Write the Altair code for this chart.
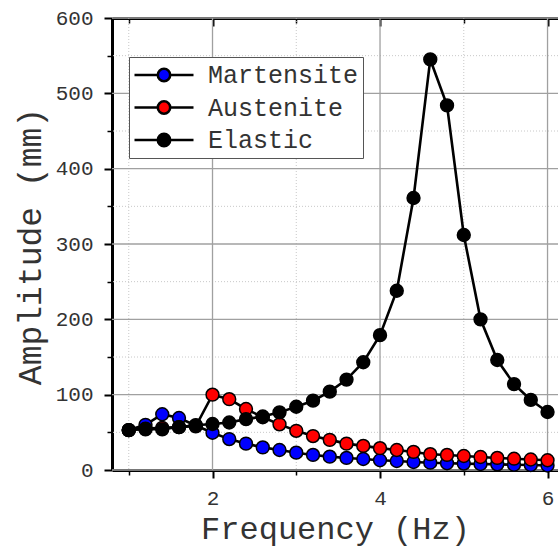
import altair as alt
import pandas as pd

# ---- data ----
freq = [1.0, 1.2, 1.4, 1.6, 1.8, 2.0, 2.2, 2.4, 2.6, 2.8, 3.0, 3.2, 3.4,
        3.6, 3.8, 4.0, 4.2, 4.4, 4.6, 4.8, 5.0, 5.2, 5.4, 5.6, 5.8, 6.0]
martensite = [53, 60, 74, 69, 59, 49.5, 41, 35, 30, 26.5, 23, 20, 17.7,
              16, 14.6, 13, 12, 10.6, 9.7, 9, 8.5, 8, 7.5, 7, 6.6, 6]
austenite = [53, 55, 56, 57, 58, 100, 94, 81, 70, 60.6, 52, 45, 40,
             35, 32, 29, 26.5, 24, 21, 20, 18.6, 17.3, 16, 15, 14, 13]
elastic = [53, 54, 54, 57, 59.5, 61, 63, 67.5, 71, 76.5, 84, 92, 104,
           120, 143, 179, 238, 361, 545, 484, 312, 200, 146, 114, 93, 77]

series_names = ["Martensite", "Austenite", "Elastic"]
series_colors = ["#0000ff", "#ff0000", "#000000"]

x_major = [2, 4, 6]
x_minor = [1, 3, 5]
y_major = [0, 100, 200, 300, 400, 500, 600]
y_grid_major = [100, 200, 300, 400, 500]
y_minor = [50, 150, 250, 350, 450, 550]

FONT = "Courier New, Liberation Mono, monospace"
W, H = 446, 452

xscale = alt.Scale(domain=[0.8, 6.125], nice=False, zero=False)
yscale = alt.Scale(domain=[0, 600], nice=False, zero=False)

def xaxis(**kw):
    base = dict(orient="bottom", grid=False, labels=False, title=None,
                domain=False, tickColor="black", tickWidth=2, tickSize=8)
    base.update(kw)
    return alt.Axis(**base)

def yaxis(**kw):
    base = dict(orient="left", grid=False, labels=False, title=None,
                domain=False, tickColor="black", tickWidth=2, tickSize=8)
    base.update(kw)
    return alt.Axis(**base)

xmin_df = pd.DataFrame({"v": x_minor})
xmaj_df = pd.DataFrame({"v": x_major})
ymin_df = pd.DataFrame({"v": y_minor})
ymaj_df = pd.DataFrame({"v": y_grid_major})
yall_df = pd.DataFrame({"v": y_major})

# minor x grid + bottom minor ticks
g1 = alt.Chart(xmin_df).mark_rule(color="#c8c8c8", strokeWidth=1, strokeDash=[1, 2]).encode(
    x=alt.X("v:Q", scale=xscale, axis=xaxis(values=x_minor, tickSize=5, tickWidth=1.5)))
# minor y grid + left minor ticks
g2 = alt.Chart(ymin_df).mark_rule(color="#c8c8c8", strokeWidth=1, strokeDash=[1, 2]).encode(
    y=alt.Y("v:Q", scale=yscale, axis=yaxis(values=y_minor, tickSize=5, tickWidth=1.5)))
# major x grid + main bottom axis
g3 = alt.Chart(xmaj_df).mark_rule(color="#a0a0a0", strokeWidth=1.3).encode(
    x=alt.X("v:Q", scale=xscale, axis=xaxis(
        values=x_major, labels=True, format="d", labelFont=FONT, labelFontSize=21,
        labelColor="#333333", labelPadding=9, domain=True, domainColor="black",
        domainWidth=3, title="Frequency (Hz)", titleFont=FONT, titleFontSize=32,
        titleFontWeight="normal", titleColor="#333333", titleBaseline="alphabetic",
        titleY=68)))
# major y grid + main left axis
g4 = alt.Chart(yall_df).mark_rule(color="#a0a0a0", strokeWidth=1.3).encode(
    y=alt.Y("v:Q", scale=yscale, axis=yaxis(
        values=y_major, labels=True, format="d", labelFont=FONT, labelFontSize=21,
        labelColor="#333333", labelPadding=11, domain=True, domainColor="black",
        domainWidth=3, title="Amplitude (mm)", titleFont=FONT, titleFontSize=33,
        titleFontWeight="normal", titleColor="#333333", titleBaseline="alphabetic",
        titleAngle=270, titleX=-72, titleY=228)))
# top border: major ticks pointing inward
g5 = alt.Chart(xmaj_df).mark_rule(opacity=0).encode(
    x=alt.X("v:Q", scale=xscale, axis=xaxis(values=x_major, offset=-H, domain=True,
                                            domainColor="black", domainWidth=3)))
g6 = alt.Chart(xmin_df).mark_rule(opacity=0).encode(
    x=alt.X("v:Q", scale=xscale, axis=xaxis(values=x_minor, offset=-H, tickSize=5,
                                            tickWidth=1.5)))

legend_path = ("M-1,0H-0.21M0.21,0H1"
               "M0.21,0A0.21,0.21,0,1,1,-0.21,0A0.21,0.21,0,1,1,0.21,0Z")
fill_scale = alt.Scale(domain=series_names, range=series_colors)
legend = alt.Legend(
    title=None, orient="none", legendX=17, legendY=39,
    symbolType=legend_path, symbolSize=3481, symbolStrokeColor="black",
    symbolStrokeWidth=2.6, symbolOpacity=1, clipHeight=28, rowPadding=4.5,
    labelFont=FONT, labelFontSize=25, labelColor="#333333", labelOffset=13,
    padding=4, strokeColor="#555555", fillColor="white", labelLimit=400)

layers = [g1, g2, g3, g4, g5, g6]
for name, vals in zip(series_names, [martensite, austenite, elastic]):
    df = pd.DataFrame({"f": freq, "a": vals, "series": name})
    base = alt.Chart(df).encode(
        x=alt.X("f:Q", scale=xscale, axis=None),
        y=alt.Y("a:Q", scale=yscale, axis=None))
    line = base.mark_line(color="black", strokeWidth=2.6)
    pts = base.mark_point(shape="circle", filled=True, size=165, stroke="black",
                          strokeWidth=1.5, opacity=1).encode(
        fill=alt.Fill("series:N", scale=fill_scale, legend=legend))
    layers += [line, pts]

chart = alt.layer(*layers).resolve_axis(x="independent", y="independent").properties(
    width=W, height=H,
    autosize=alt.AutoSizeParams(type="none"),
    padding={"left": 112, "top": 18, "right": 0, "bottom": 79},
    background="white",
).configure_view(stroke=None)

chart.save("out.html", embed_options={"renderer": "svg", "actions": False})
